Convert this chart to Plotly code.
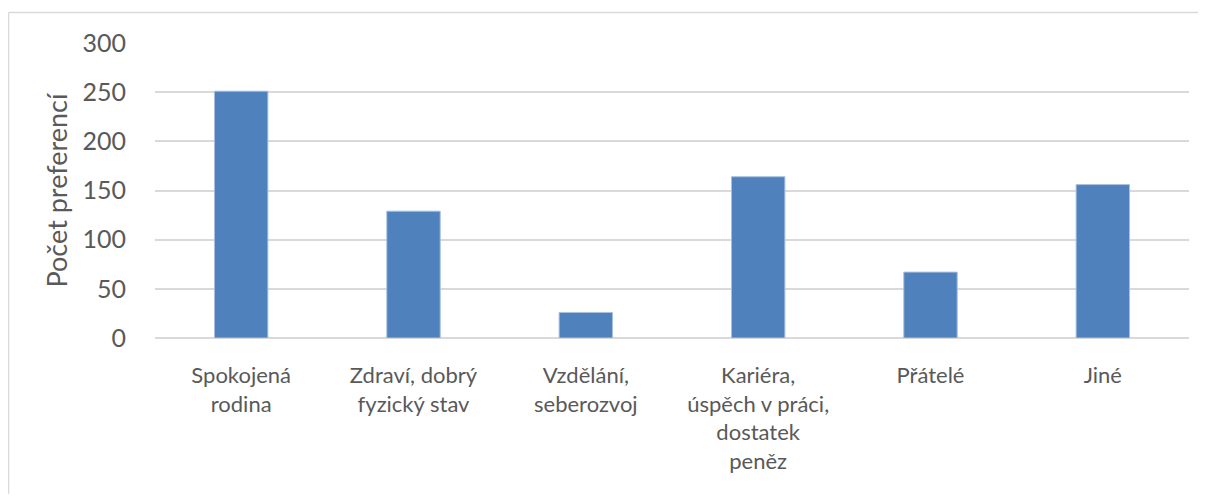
import plotly.graph_objects as go

# kategorie a pocty preferenci
categories = [
    "Spokojená<br>rodina",
    "Zdraví, dobrý<br>fyzický stav",
    "Vzdělání,<br>seberozvoj",
    "Kariéra,<br>úspěch v práci,<br>dostatek<br>peněz",
    "Přátelé",
    "Jiné",
]
values = [251, 129, 26, 164, 67, 156]
y_ticks = [0, 50, 100, 150, 200, 250, 300]

text_color = "#595959"
font_name = "Lato, Open Sans, sans-serif"

fig = go.Figure()

fig.add_trace(
    go.Bar(
        x=categories,
        y=values,
        marker=dict(color="#4f81bd", line=dict(color="#a9c0e0", width=1)),
        width=0.31,
        hoverinfo="x+y",
    )
)

# page body has an 8px margin on every side -> keep figure small enough to avoid scrollbars
L, T, R, B = 147, 35, 9, 156
W = 1189 - 155
H = 338 - 43
fx = (8.5 - 155) / W
fx_end = (1198 - 155) / W
fy = 1 + (43 - 12.5) / H
fy_end = -(494 - 338) / H
# chart frame (left + top edge like the Excel chart area)
fig.add_shape(type="line", xref="paper", yref="paper", x0=fx, y0=fy, x1=fx_end, y1=fy,
              line=dict(color="#d9d9d9", width=1.5))
fig.add_shape(type="line", xref="paper", yref="paper", x0=fx, y0=fy, x1=fx, y1=fy_end,
              line=dict(color="#d9d9d9", width=1.5))

fig.update_layout(
    width=1190,
    height=486,
    margin=dict(l=L, r=R, t=T, b=B),
    paper_bgcolor="white",
    plot_bgcolor="white",
    showlegend=False,
    font=dict(family=font_name, size=22, color=text_color),
)

fig.update_xaxes(
    showgrid=False,
    showline=False,
    ticks="",
    ticklabelstandoff=22,
    tickfont=dict(size=22, color=text_color),
)

fig.update_yaxes(
    range=[0, 300],
    tickvals=y_ticks,
    showgrid=True,
    gridcolor="#d9d9d9",
    gridwidth=1.5,
    zeroline=True,
    zerolinecolor="#d9d9d9",
    zerolinewidth=1.5,
    ticks="",
    ticklabelstandoff=28,
    tickfont=dict(size=25, color=text_color),
    title=dict(text="Počet preferencí", font=dict(size=27, color=text_color), standoff=7),
)

fig.write_html("out.html")
